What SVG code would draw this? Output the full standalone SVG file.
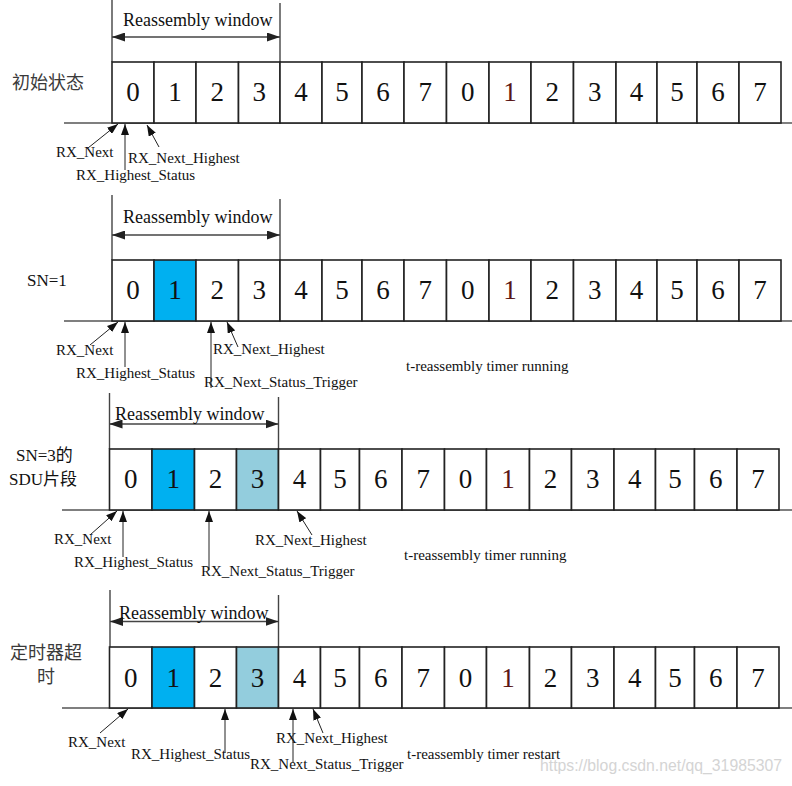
<svg xmlns="http://www.w3.org/2000/svg" width="792" height="786" viewBox="0 0 792 786">
<style>
.c{fill:#fff;stroke:#222;stroke-width:1.6}
.b1{fill:#00B0F0}
.b3{fill:#93CDDD}
.d{font-family:"Liberation Serif",serif;font-size:27px;fill:#111;text-anchor:middle}
.lab{font-family:"Liberation Serif",serif;font-size:15px;fill:#111}
.win{font-family:"Liberation Serif",serif;font-size:18px;fill:#111}
.cjk{font-family:"Liberation Serif","Noto Sans CJK SC",serif;font-size:18px;fill:#3a3a3a}
.sn{font-family:"Liberation Serif","Noto Sans CJK SC",serif;font-size:17px;fill:#111}
.base{stroke:#555;stroke-width:1.6;fill:none}
.wl{stroke:#444;stroke-width:1.4;fill:none}
.wa{stroke:#444;stroke-width:1.4;fill:none;marker-start:url(#wh);marker-end:url(#wh)}
.pa{stroke:#222;stroke-width:1;fill:none;marker-end:url(#ph)}
</style>
<defs>
<marker id="wh" markerUnits="userSpaceOnUse" markerWidth="13" markerHeight="9" refX="13" refY="4.5" orient="auto-start-reverse"><path d="M0,0 L13,4.5 L0,9 z" fill="#222"/></marker>
<marker id="ph" markerUnits="userSpaceOnUse" markerWidth="11" markerHeight="8" refX="11" refY="4" orient="auto"><path d="M0,0 L11,4 L0,8 z" fill="#111"/></marker>
</defs>

<!-- Row 1 -->
<g id="row1">
<text class="cjk" x="12" y="89">初始状态</text>
<line class="wl" x1="112" y1="0" x2="112" y2="62"/>
<line class="wl" x1="280" y1="3" x2="280" y2="62"/>
<line class="wa" x1="112" y1="37" x2="280" y2="37"/>
<text class="win" x="123" y="26">Reassembly window</text>
<line class="base" x1="64" y1="123" x2="792" y2="123"/>
<g id="r1c0"><rect class="c" x="112" y="62" width="42" height="61"/><text class="d" x="133" y="101">0</text></g>
<g id="r1c1"><rect class="c" x="154" y="62" width="42" height="61"/><text class="d" x="175" y="101">1</text></g>
<g id="r1c2"><rect class="c" x="196" y="62" width="42.5" height="61"/><text class="d" x="217.25" y="101">2</text></g>
<g id="r1c3"><rect class="c" x="238.5" y="62" width="41.5" height="61"/><text class="d" x="259.25" y="101">3</text></g>
<g id="r1c4"><rect class="c" x="280" y="62" width="42" height="61"/><text class="d" x="301" y="101">4</text></g>
<g id="r1c5"><rect class="c" x="322" y="62" width="40" height="61"/><text class="d" x="342" y="101">5</text></g>
<g id="r1c6"><rect class="c" x="362" y="62" width="42" height="61"/><text class="d" x="383" y="101">6</text></g>
<g id="r1c7"><rect class="c" x="404" y="62" width="42.5" height="61"/><text class="d" x="425.25" y="101">7</text></g>
<g id="r1c8"><rect class="c" x="446.5" y="62" width="42.5" height="61"/><text class="d" x="467.75" y="101">0</text></g>
<g id="r1c9"><rect class="c" x="489" y="62" width="42" height="61"/><text class="d" x="510" y="101" fill="#5a1616" style="fill:#5a1616">1</text></g>
<g id="r1c10"><rect class="c" x="531" y="62" width="42.5" height="61"/><text class="d" x="552.25" y="101">2</text></g>
<g id="r1c11"><rect class="c" x="573.5" y="62" width="42.5" height="61"/><text class="d" x="594.75" y="101">3</text></g>
<g id="r1c12"><rect class="c" x="616" y="62" width="41" height="61"/><text class="d" x="636.5" y="101">4</text></g>
<g id="r1c13"><rect class="c" x="657" y="62" width="40" height="61"/><text class="d" x="677" y="101">5</text></g>
<g id="r1c14"><rect class="c" x="697" y="62" width="42" height="61"/><text class="d" x="718" y="101">6</text></g>
<g id="r1c15"><rect class="c" x="739" y="62" width="42" height="61"/><text class="d" x="760" y="101">7</text></g>
<text class="lab" x="56" y="157">RX_Next</text>
<text class="lab" x="128" y="163">RX_Next_Highest</text>
<text class="lab" x="76" y="180">RX_Highest_Status</text>
</g>

<!-- Row 2 -->
<g id="row2">
<text class="sn" x="27" y="286">SN=1</text>
<line class="wl" x1="112" y1="195" x2="112" y2="260"/>
<line class="wl" x1="280" y1="199" x2="280" y2="260"/>
<line class="wa" x1="112" y1="235" x2="280" y2="235"/>
<text class="win" x="123" y="223">Reassembly window</text>
<line class="base" x1="64" y1="321" x2="792" y2="321"/>
<g id="r2c0"><rect class="c" x="112" y="260" width="42" height="61"/><text class="d" x="133" y="299">0</text></g>
<g id="r2c1"><rect class="c b1" x="154" y="260" width="42" height="61"/><text class="d" x="175" y="299">1</text></g>
<g id="r2c2"><rect class="c" x="196" y="260" width="42.5" height="61"/><text class="d" x="217.25" y="299">2</text></g>
<g id="r2c3"><rect class="c" x="238.5" y="260" width="41.5" height="61"/><text class="d" x="259.25" y="299">3</text></g>
<g id="r2c4"><rect class="c" x="280" y="260" width="42" height="61"/><text class="d" x="301" y="299">4</text></g>
<g id="r2c5"><rect class="c" x="322" y="260" width="40" height="61"/><text class="d" x="342" y="299">5</text></g>
<g id="r2c6"><rect class="c" x="362" y="260" width="42" height="61"/><text class="d" x="383" y="299">6</text></g>
<g id="r2c7"><rect class="c" x="404" y="260" width="42.5" height="61"/><text class="d" x="425.25" y="299">7</text></g>
<g id="r2c8"><rect class="c" x="446.5" y="260" width="42.5" height="61"/><text class="d" x="467.75" y="299">0</text></g>
<g id="r2c9"><rect class="c" x="489" y="260" width="42" height="61"/><text class="d" x="510" y="299" style="fill:#5a1616">1</text></g>
<g id="r2c10"><rect class="c" x="531" y="260" width="42.5" height="61"/><text class="d" x="552.25" y="299">2</text></g>
<g id="r2c11"><rect class="c" x="573.5" y="260" width="42.5" height="61"/><text class="d" x="594.75" y="299">3</text></g>
<g id="r2c12"><rect class="c" x="616" y="260" width="41" height="61"/><text class="d" x="636.5" y="299">4</text></g>
<g id="r2c13"><rect class="c" x="657" y="260" width="40" height="61"/><text class="d" x="677" y="299">5</text></g>
<g id="r2c14"><rect class="c" x="697" y="260" width="42" height="61"/><text class="d" x="718" y="299">6</text></g>
<g id="r2c15"><rect class="c" x="739" y="260" width="42" height="61"/><text class="d" x="760" y="299">7</text></g>
<text class="lab" x="56" y="355">RX_Next</text>
<text class="lab" x="76" y="378">RX_Highest_Status</text>
<text class="lab" x="213" y="354">RX_Next_Highest</text>
<text class="lab" x="204" y="387">RX_Next_Status_Trigger</text>
<text class="lab" x="406" y="371">t-reassembly timer running</text>
</g>

<!-- Row 3 -->
<g id="row3">
<text class="sn" x="16" y="461">SN=3的</text>
<text class="sn" x="9" y="485">SDU片段</text>
<line class="wl" x1="109.5" y1="393" x2="109.5" y2="449"/>
<line class="wl" x1="278.5" y1="397" x2="278.5" y2="449"/>
<line class="wa" x1="109.5" y1="424" x2="278.5" y2="424"/>
<text class="win" x="115" y="420">Reassembly window</text>
<line class="base" x1="62" y1="510" x2="792" y2="510"/>
<g id="r3c0"><rect class="c" x="109.5" y="449" width="42.5" height="61"/><text class="d" x="130.75" y="488">0</text></g>
<g id="r3c1"><rect class="c b1" x="152" y="449" width="42.5" height="61"/><text class="d" x="173.25" y="488">1</text></g>
<g id="r3c2"><rect class="c" x="194.5" y="449" width="42" height="61"/><text class="d" x="215.5" y="488">2</text></g>
<g id="r3c3"><rect class="c b3" x="236.5" y="449" width="42" height="61"/><text class="d" x="257.5" y="488">3</text></g>
<g id="r3c4"><rect class="c" x="278.5" y="449" width="42" height="61"/><text class="d" x="299.5" y="488">4</text></g>
<g id="r3c5"><rect class="c" x="320.5" y="449" width="39" height="61"/><text class="d" x="340" y="488">5</text></g>
<g id="r3c6"><rect class="c" x="359.5" y="449" width="42.5" height="61"/><text class="d" x="380.75" y="488">6</text></g>
<g id="r3c7"><rect class="c" x="402" y="449" width="42.5" height="61"/><text class="d" x="423.25" y="488">7</text></g>
<g id="r3c8"><rect class="c" x="444.5" y="449" width="42" height="61"/><text class="d" x="465.5" y="488">0</text></g>
<g id="r3c9"><rect class="c" x="486.5" y="449" width="43" height="61"/><text class="d" x="508" y="488" style="fill:#5a1616">1</text></g>
<g id="r3c10"><rect class="c" x="529.5" y="449" width="42" height="61"/><text class="d" x="550.5" y="488">2</text></g>
<g id="r3c11"><rect class="c" x="571.5" y="449" width="42.5" height="61"/><text class="d" x="592.75" y="488">3</text></g>
<g id="r3c12"><rect class="c" x="614" y="449" width="41.5" height="61"/><text class="d" x="634.75" y="488">4</text></g>
<g id="r3c13"><rect class="c" x="655.5" y="449" width="39" height="61"/><text class="d" x="675" y="488">5</text></g>
<g id="r3c14"><rect class="c" x="694.5" y="449" width="42.5" height="61"/><text class="d" x="715.75" y="488">6</text></g>
<g id="r3c15"><rect class="c" x="737" y="449" width="42" height="61"/><text class="d" x="758" y="488">7</text></g>
<text class="lab" x="54" y="544">RX_Next</text>
<text class="lab" x="74" y="567">RX_Highest_Status</text>
<text class="lab" x="255" y="545">RX_Next_Highest</text>
<text class="lab" x="201" y="576">RX_Next_Status_Trigger</text>
<text class="lab" x="404" y="560">t-reassembly timer running</text>
</g>

<!-- Row 4 -->
<g id="row4">
<text class="cjk" x="10" y="659">定时器超</text>
<text class="cjk" x="37" y="683">时</text>
<line class="wl" x1="110" y1="590" x2="110" y2="647"/>
<line class="wl" x1="278.5" y1="595" x2="278.5" y2="647"/>
<line class="wa" x1="110" y1="621.5" x2="278.5" y2="621.5"/>
<text class="win" x="119" y="619">Reassembly window</text>
<line class="base" x1="62" y1="708" x2="792" y2="708"/>
<g id="r4c0"><rect class="c" x="109.5" y="647" width="42.5" height="61"/><text class="d" x="130.75" y="687">0</text></g>
<g id="r4c1"><rect class="c b1" x="152" y="647" width="42.5" height="61"/><text class="d" x="173.25" y="687">1</text></g>
<g id="r4c2"><rect class="c" x="194.5" y="647" width="42" height="61"/><text class="d" x="215.5" y="687">2</text></g>
<g id="r4c3"><rect class="c b3" x="236.5" y="647" width="42" height="61"/><text class="d" x="257.5" y="687">3</text></g>
<g id="r4c4"><rect class="c" x="278.5" y="647" width="42" height="61"/><text class="d" x="299.5" y="687">4</text></g>
<g id="r4c5"><rect class="c" x="320.5" y="647" width="39" height="61"/><text class="d" x="340" y="687">5</text></g>
<g id="r4c6"><rect class="c" x="359.5" y="647" width="42.5" height="61"/><text class="d" x="380.75" y="687">6</text></g>
<g id="r4c7"><rect class="c" x="402" y="647" width="42.5" height="61"/><text class="d" x="423.25" y="687">7</text></g>
<g id="r4c8"><rect class="c" x="444.5" y="647" width="42" height="61"/><text class="d" x="465.5" y="687">0</text></g>
<g id="r4c9"><rect class="c" x="486.5" y="647" width="43" height="61"/><text class="d" x="508" y="687" style="fill:#5a1616">1</text></g>
<g id="r4c10"><rect class="c" x="529.5" y="647" width="42" height="61"/><text class="d" x="550.5" y="687">2</text></g>
<g id="r4c11"><rect class="c" x="571.5" y="647" width="42.5" height="61"/><text class="d" x="592.75" y="687">3</text></g>
<g id="r4c12"><rect class="c" x="614" y="647" width="41.5" height="61"/><text class="d" x="634.75" y="687">4</text></g>
<g id="r4c13"><rect class="c" x="655.5" y="647" width="39" height="61"/><text class="d" x="675" y="687">5</text></g>
<g id="r4c14"><rect class="c" x="694.5" y="647" width="42.5" height="61"/><text class="d" x="715.75" y="687">6</text></g>
<g id="r4c15"><rect class="c" x="737" y="647" width="42" height="61"/><text class="d" x="758" y="687">7</text></g>
<text class="lab" x="68" y="747">RX_Next</text>
<text class="lab" x="131" y="759">RX_Highest_Status</text>
<text class="lab" x="276" y="743">RX_Next_Highest</text>
<text class="lab" x="250" y="769">RX_Next_Status_Trigger</text>
<text class="lab" x="407" y="759">t-reassembly timer restart</text>
</g>

<!-- Connectors -->
<g id="connectors">
<line class="pa" x1="88" y1="148" x2="118" y2="124"/>
<line class="pa" x1="125" y1="170" x2="125" y2="124"/>
<line class="pa" x1="159" y1="147" x2="147" y2="125"/>

<line class="pa" x1="90" y1="345" x2="118" y2="322"/>
<line class="pa" x1="125" y1="367" x2="125" y2="322"/>
<line class="pa" x1="211" y1="388" x2="211" y2="322"/>
<line class="pa" x1="238" y1="347" x2="227" y2="322"/>

<line class="pa" x1="90" y1="535" x2="117" y2="511"/>
<line class="pa" x1="123" y1="557" x2="123" y2="511"/>
<line class="pa" x1="209" y1="570" x2="209" y2="511"/>
<line class="pa" x1="312" y1="535" x2="297" y2="511"/>

<line class="pa" x1="100" y1="733" x2="128" y2="709"/>
<line class="pa" x1="225" y1="753" x2="225" y2="709"/>
<line class="pa" x1="323" y1="733" x2="313" y2="709"/>
<line class="pa" x1="293" y1="763" x2="293" y2="709"/>
</g>

<text x="540" y="771" font-family="Liberation Sans, Arial, sans-serif" font-size="16" fill="#d4d4d4" textLength="242" lengthAdjust="spacingAndGlyphs">https://blog.csdn.net/qq_31985307</text>
</svg>
